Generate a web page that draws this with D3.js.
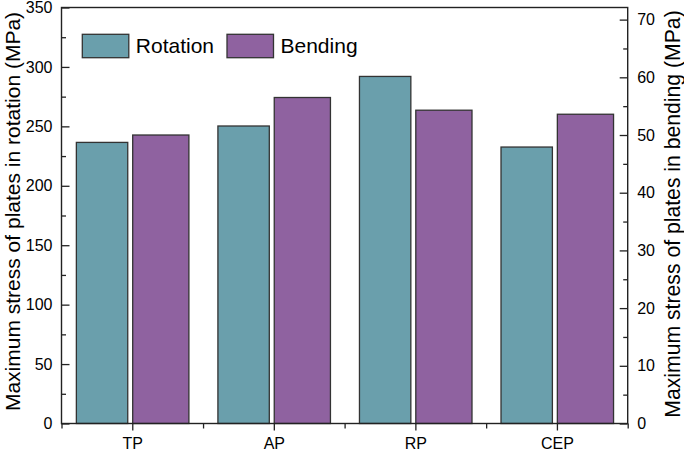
<!DOCTYPE html>
<html>
<head>
<meta charset="utf-8">
<script src="https://cdn.jsdelivr.net/npm/d3@7"></script>
<style>
  html, body { margin: 0; padding: 0; background: #fff; }
  svg { display: block; }
  text { font-family: "Liberation Sans", Arial, Helvetica, sans-serif; fill: #000; }
</style>
</head>
<body>
<svg id="chart" width="684" height="451"></svg>
<script>
// ---- data ----
const categories = ["TP", "AP", "RP", "CEP"];
const rotationValues = [236.5, 250.3, 292.0, 232.6];   // MPa, left axis
const bendingValues  = [50.0, 56.5, 54.3, 53.6];        // MPa, right axis
const leftTicks  = [0, 50, 100, 150, 200, 250, 300, 350];
const leftMinor  = [25, 75, 125, 175, 225, 275, 325];
const rightTicks = [0, 10, 20, 30, 40, 50, 60, 70];
const rightMinor = [5, 15, 25, 35, 45, 55, 65];
const seriesNames = ["Rotation", "Bending"];
const leftTitle  = "Maximum stress of plates in rotation (MPa)";
const rightTitle = "Maximum stress of plates in bending (MPa)";

// ---- layout ----
const L = 61.5, R = 627.7, T = 7.5, B = 423.5;
const colRot = "#6a9fac", colBend = "#8f62a0", stroke = "#333";
const svg = d3.select("#chart");

const x = d3.scaleBand().domain(categories).range([L, R]).padding(0);
const yL = d3.scaleLinear().domain([0, 350]).range([B, T]);
const yR = d3.scaleLinear().domain([0, 72.1]).range([B, T]);
const bw = x.bandwidth();
const rotOff = [-0.395, -0.032], bendOff = [0.003, 0.4];

// bars
const g = svg.append("g");
g.selectAll("rect.rot").data(categories).join("rect")
  .attr("class", "rot")
  .attr("x", (c) => x(c) + bw / 2 + rotOff[0] * bw)
  .attr("width", (rotOff[1] - rotOff[0]) * bw)
  .attr("y", (c, i) => yL(rotationValues[i]))
  .attr("height", (c, i) => B - yL(rotationValues[i]))
  .attr("fill", colRot).attr("stroke", stroke).attr("stroke-width", 1.3);
g.selectAll("rect.bend").data(categories).join("rect")
  .attr("class", "bend")
  .attr("x", (c) => x(c) + bw / 2 + bendOff[0] * bw)
  .attr("width", (bendOff[1] - bendOff[0]) * bw)
  .attr("y", (c, i) => yR(bendingValues[i]))
  .attr("height", (c, i) => B - yR(bendingValues[i]))
  .attr("fill", colBend).attr("stroke", stroke).attr("stroke-width", 1.3);

// frame
svg.append("rect").attr("x", L).attr("y", T).attr("width", R - L).attr("height", B - T)
  .attr("fill", "none").attr("stroke", "#222").attr("stroke-width", 1.4);

function styleAxis(sel) {
  sel.select(".domain").remove();
  sel.selectAll(".tick line").attr("stroke", "#222").attr("stroke-width", 1.3);
  sel.selectAll("text").attr("font-size", 16).attr("fill", "#000");
}

// left axis
svg.append("g").attr("transform", `translate(${L},0)`)
  .call(d3.axisLeft(yL).tickValues(leftTicks).tickSize(-8).tickPadding(9).tickFormat(d3.format("d")))
  .call(styleAxis);
svg.append("g").attr("transform", `translate(${L},0)`)
  .call(d3.axisLeft(yL).tickValues(leftMinor).tickSize(-4.5).tickFormat(""))
  .call(styleAxis);

// right axis
svg.append("g").attr("transform", `translate(${R},0)`)
  .call(d3.axisRight(yR).tickValues(rightTicks).tickSize(-8).tickPadding(9.5).tickFormat(d3.format("d")))
  .call(styleAxis);
svg.append("g").attr("transform", `translate(${R},0)`)
  .call(d3.axisRight(yR).tickValues(rightMinor).tickSize(-4.5).tickFormat(""))
  .call(styleAxis);

// bottom axis
const xc = d3.scalePoint().domain(categories).range([L + bw / 2, R - bw / 2]);
svg.append("g").attr("transform", `translate(0,${B})`)
  .call(d3.axisBottom(xc).tickSize(7).tickPadding(7))
  .call(styleAxis)
  .call((s) => s.selectAll("text").attr("dy", "0.71em"));
const edges = categories.map((c) => x(c)).concat([x(categories[categories.length - 1]) + bw]);
svg.append("g").attr("transform", `translate(0,${B})`)
  .call(d3.axisBottom(d3.scaleIdentity()).tickValues(edges).tickSize(5).tickFormat(""))
  .call(styleAxis);

// axis titles
svg.append("text").attr("transform", `translate(19.5,${(T + B) / 2 - 4}) rotate(-90)`)
  .attr("text-anchor", "middle").attr("font-size", 21).text(leftTitle);
svg.append("text").attr("transform", `translate(679.5,${(T + B) / 2 - 1.5}) rotate(-90)`)
  .attr("text-anchor", "middle").attr("font-size", 21.2).text(rightTitle);

// legend
const legend = [
  { name: seriesNames[0], color: colRot, x: 82.3 },
  { name: seriesNames[1], color: colBend, x: 227 }
];
const lg = svg.append("g");
legend.forEach((d) => {
  lg.append("rect").attr("x", d.x).attr("y", 34.3).attr("width", 46.5).attr("height", 23.4)
    .attr("fill", d.color).attr("stroke", stroke).attr("stroke-width", 1.3);
  lg.append("text").attr("x", d.x + 53.5).attr("y", 53.3).attr("font-size", 21).text(d.name);
});
</script>
</body>
</html>
